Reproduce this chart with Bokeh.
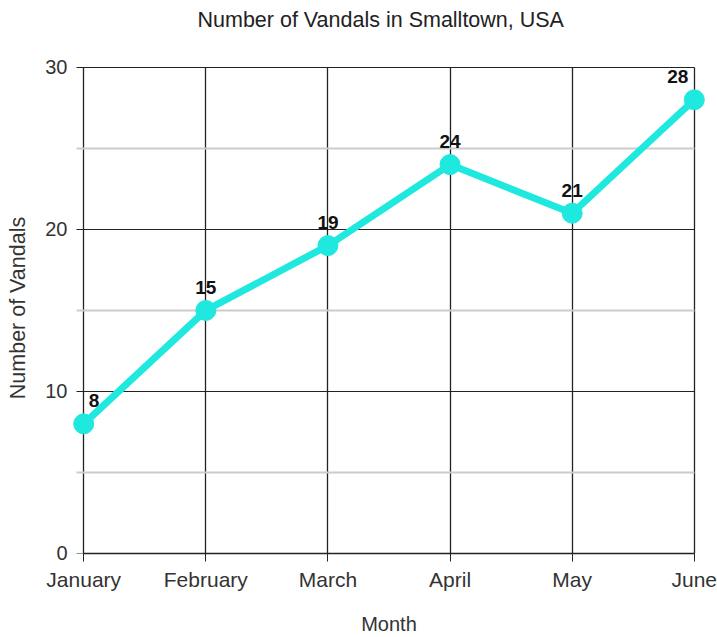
from bokeh.plotting import figure
from bokeh.models import Range1d, FixedTicker, ColumnDataSource, Title
from bokeh.core.properties import value
from bokeh.embed import file_html
from bokeh.resources import INLINE

# ---- data ----
months = ["January", "February", "March", "April", "May", "June"]
vandals = [8, 15, 19, 24, 21, 28]
y_ticks = [0, 10, 20, 30]
y_minor_ticks = [5, 15, 25]
title_text = "Number of Vandals in Smalltown, USA"
x_label = "Month"
y_label = "Number of Vandals"

FONT = "Liberation Sans"
CYAN = "#1fe8df"

xs = list(range(len(months)))
n = len(xs)
aligns = ["left"] + ["center"] * (n - 2) + ["right"]
xoffs = [5] + [0] * (n - 2) + [-6]
src = ColumnDataSource(dict(x=xs, y=vandals, lab=[str(v) for v in vandals],
                            align=aligns, xoff=xoffs))

p = figure(width=717, height=637, output_backend="svg", toolbar_location=None,
           x_range=Range1d(-0.1, len(months) - 1 + 0.1), y_range=Range1d(-0.001, 30.3),
           min_border_left=71, min_border_right=11, min_border_top=62, min_border_bottom=84,
           title=title_text)
p.outline_line_color = None
p.background_fill_color = "white"
p.border_fill_color = "white"

# spacer between the title and the frame (pushes the title upward)
p.add_layout(Title(text=" ", text_font_size="10px", standoff=13), "above")

p.title.align = "left"
p.title.offset = 126
p.title.text_font = FONT
p.title.text_font_size = "21.5px"
p.title.text_font_style = "normal"
p.title.text_color = "#222222"
p.title.standoff = 10

# x axis
xa = p.xaxis[0]
xa.ticker = FixedTicker(ticks=xs)
xa.major_label_overrides = {i: m for i, m in enumerate(months)}
xa.bounds = (0, len(months) - 1)
xa.axis_line_color = "#222222"
xa.axis_line_width = 1.5
xa.major_tick_out = 8
xa.major_tick_in = 0
xa.major_tick_line_color = "#222222"
xa.minor_tick_line_color = None
xa.major_label_standoff = 6
xa.major_label_text_font = FONT
xa.major_label_text_font_size = "21px"
xa.major_label_text_color = "#333333"
xa.axis_label = x_label
xa.axis_label_text_font = FONT
xa.axis_label_text_font_size = "20px"
xa.axis_label_text_font_style = "normal"
xa.axis_label_text_color = "#333333"
xa.axis_label_standoff = 19

# y axis (labels only; its line and ticks come from the grid)
ya = p.yaxis[0]
ya.ticker = FixedTicker(ticks=y_ticks, minor_ticks=y_minor_ticks)
ya.axis_line_color = None
ya.major_tick_line_color = None
ya.minor_tick_line_color = None
ya.major_tick_out = 0
ya.major_tick_in = 0
ya.minor_tick_out = 0
ya.minor_tick_in = 0
ya.major_label_standoff = 4
ya.major_label_text_font = FONT
ya.major_label_text_font_size = "20px"
ya.major_label_text_color = "#333333"
ya.axis_label = y_label
ya.axis_label_text_font = FONT
ya.axis_label_text_font_size = "21.5px"
ya.axis_label_text_font_style = "normal"
ya.axis_label_text_color = "#333333"
ya.axis_label_standoff = 12

# grids
xg = p.xgrid[0]
xg.ticker = FixedTicker(ticks=xs)
xg.grid_line_color = "#222222"
xg.grid_line_width = 1.3
xg.cross_bounds = (0, 30)

yg = p.ygrid[0]
yg.ticker = FixedTicker(ticks=y_ticks, minor_ticks=y_minor_ticks)
yg.grid_line_color = "#222222"
yg.grid_line_width = 1.2
yg.minor_grid_line_color = "#cccccc"
yg.minor_grid_line_width = 2
yg.cross_bounds = (-0.057, len(months) - 1)

# series
p.line("x", "y", source=src, line_color=CYAN, line_width=7, line_join="round")
p.scatter("x", "y", source=src, size=20, fill_color=CYAN, line_color=CYAN)
p.text("x", "y", text="lab", source=src, text_align="align", x_offset="xoff",
       y_offset=-23, text_baseline="alphabetic", text_font=value(FONT),
       text_font_size="19px", text_font_style="bold", text_color="#111111")

open("out.html", "w").write(file_html(p, INLINE))
